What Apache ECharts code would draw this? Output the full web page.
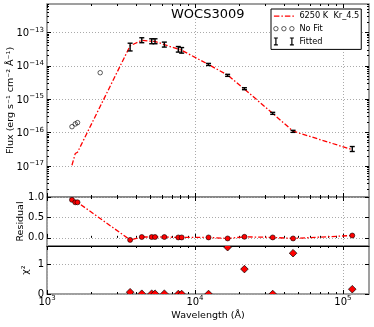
<!DOCTYPE html>
<html>
<head>
<meta charset="utf-8">
<script src="https://cdn.jsdelivr.net/npm/echarts@6/dist/echarts.min.js"></script>
<style>
  html, body { margin: 0; padding: 0; background: #fff; }
  #chart { width: 374px; height: 327px; }
</style>
</head>
<body>
<div id="chart"></div>
<script>
// wavelengths in Angstrom, fluxes in erg s-1 cm-2 A-1
const noFitWave = [1475, 1552, 1608, 2288]
const noFitFlux = [1.50e-16, 1.81e-16, 1.98e-16, 6.2e-15]

const fitWave = [3645, 4371, 5100, 5370, 6209, 7715, 8130, 12350, 16620, 21590, 33526, 46028, 115608]
const fitFlux = [3.76e-14, 5.9e-14, 5.5e-14, 5.5e-14, 4.37e-14, 3.17e-14, 2.95e-14, 1.10e-14, 5.18e-15, 2.06e-15, 3.77e-16, 1.09e-16, 3.26e-17]
const fitErr = [9.8e-15, 1.0e-14, 9.3e-15, 9.3e-15, 7.4e-15, 6.0e-15, 5.6e-15, 7.7e-16, 3.6e-16, 1.4e-16, 2.6e-17, 7.6e-18, 5.5e-18]
const chi2 = [0.06, 0.01, 0.01, 0.01, 0.01, 0.0, 0.0, 0.0, 1.56, 0.83, 0.0, 1.36, 0.16]

// model (6250 K, Kr_4.5) and residuals at the modelled filters
const modelWave = [1475, 1552, 1608, 3645, 4371, 5100, 5370, 6209, 7715, 8130, 12350, 16620, 21590, 33526, 46028, 115608]
const modelFlux = [1.05e-17, 2.35e-17, 2.57e-17, 3.95e-14, 5.8e-14, 5.4e-14, 5.4e-14, 4.3e-14, 3.15e-14, 2.92e-14, 1.09e-14, 5.25e-15, 2.0e-15, 3.73e-16, 1.1e-16, 3.07e-17]
const residual = [0.93, 0.87, 0.87, -0.05, 0.02, 0.02, 0.02, 0.02, 0.01, 0.01, 0.01, -0.015, 0.025, 0.01, -0.015, 0.057]

// ticks (log10 for the log axes)
const xTicks = [3, 4, 5]
const fluxTicks = [-17, -16, -15, -14, -13]
const residTicks = [0, 0.5, 1.0]
const chiTicks = [0, 1]

const LOG = Math.log10
const FONT = 'DejaVu Sans'
const RED = '#ff0000'
const xMin = 3
const xMax = LOG(1.5e5)
const fluxMin = -17.93
const fluxMax = -12.15

const xMinor = []
xTicks.forEach(d => { for (let k = 2; k <= 9; k++) { if (d + LOG(k) < xMax) xMinor.push(d + LOG(k)) } })
const fluxMinor = []
for (let d = -18; d <= -13; d++) { for (let k = 2; k <= 9; k++) { const v = d + LOG(k); if (v > fluxMin && v < fluxMax) fluxMinor.push(v) } }

const supRich = {
  b: { fontSize: 10, fontFamily: FONT, color: '#000', verticalAlign: 'bottom' },
  s: { fontSize: 7, fontFamily: FONT, color: '#000', verticalAlign: 'bottom', padding: [0, 0, 5, 0] }
}

const grids = [
  { left: 47, right: 5, top: 4, height: 193 },
  { left: 47, right: 5, top: 197, height: 49 },
  { left: 47, right: 5, top: 246, height: 48 }
].map(g => ({ ...g, show: true, borderColor: '#808080', borderWidth: 1.5, backgroundColor: 'transparent', containLabel: false, outerBoundsMode: 'none' }))

const tickStyle = { color: '#000', width: 1 }
const gridLine = { show: true, lineStyle: { color: '#aaa', width: 1, type: [1, 2] } }

function axis(gridIndex, position, min, max, ticks, len, opts) {
  return {
    type: 'value', gridIndex, position, min, max,
    axisLine: { show: false },
    axisTick: { show: true, inside: true, length: len, customValues: ticks, lineStyle: tickStyle },
    axisLabel: { show: false },
    splitLine: { show: false },
    nameMoveOverlap: false,
    ...opts
  }
}

const xAxes = []
const xMain = []
grids.forEach((g, i) => {
  xMain.push(xAxes.length)
  const last = i === 2
  xAxes.push(axis(i, 'bottom', xMin, xMax, xTicks, 4, {
    splitLine: gridLine,
    axisLabel: last ? {
      show: true, customValues: xTicks, margin: 1, rich: supRich,
      formatter: v => '{b|10}{s|' + Math.round(v) + '}'
    } : { show: false },
    name: last ? 'Wavelength (Å)' : '',
    nameLocation: 'middle', nameGap: 17,
    nameTextStyle: { fontSize: 9.5, fontFamily: FONT, color: '#000' }
  }))
  xAxes.push(axis(i, 'bottom', xMin, xMax, xMinor, 2))
  xAxes.push(axis(i, 'top', xMin, xMax, xTicks, 4, i === 2 ? { axisLine: { show: true, lineStyle: { color: '#000', width: 1 } } } : {}))
  xAxes.push(axis(i, 'top', xMin, xMax, xMinor, 2))
})

const nameStyle = { fontSize: 9.5, fontFamily: FONT, color: '#000' }
const yAxes = [
  axis(0, 'left', fluxMin, fluxMax, fluxTicks, 4, {
    splitLine: gridLine,
    axisLabel: {
      show: true, customValues: fluxTicks, margin: 3, rich: supRich,
      formatter: v => '{b|10}{s|\u2212' + Math.abs(Math.round(v)) + '}'
    },
    name: 'Flux (erg s\u207b\u00b9 cm\u207b\u00b2 \u00c5\u207b\u00b9)', nameLocation: 'middle', nameGap: 31, nameRotate: 90,
    nameTextStyle: nameStyle
  }),
  axis(0, 'left', fluxMin, fluxMax, fluxMinor, 2),
  axis(0, 'right', fluxMin, fluxMax, fluxTicks, 4),
  axis(0, 'right', fluxMin, fluxMax, fluxMinor, 2),
  axis(1, 'left', -0.2, 1.0, residTicks, 4, {
    splitLine: gridLine,
    axisLabel: {
      show: true, customValues: residTicks, margin: 3, fontSize: 10, fontFamily: FONT, color: '#000',
      formatter: v => v.toFixed(1)
    },
    name: 'Residual', nameLocation: 'middle', nameGap: 21, nameRotate: 90, nameTextStyle: nameStyle
  }),
  axis(1, 'right', -0.2, 1.0, residTicks, 4),
  axis(2, 'left', 0, 1.6, chiTicks, 4, {
    splitLine: gridLine,
    axisLabel: {
      show: true, customValues: chiTicks, margin: 3, fontSize: 10, fontFamily: FONT, color: '#000',
      formatter: v => String(Math.round(v))
    },
    name: '\u03c7\u00b2', nameLocation: 'middle', nameGap: 16, nameRotate: 90, nameTextStyle: nameStyle
  }),
  axis(2, 'right', 0, 1.6, chiTicks, 4)
]

const errData = fitWave.map((w, i) => [LOG(w), LOG(fitFlux[i] - fitErr[i]), LOG(fitFlux[i] + fitErr[i])])

const corners = 'M0,0h0.01v0.01h-0.01z M21,10h0.01v0.01h-0.01z'
const dashPath = 'path://' + corners +
  ' M0.5,4.4h5.5v1.3h-5.5z M8,4.4h1.5v1.3h-1.5z M11.5,4.4h5.5v1.3h-5.5z M19,4.4h1.5v1.3h-1.5z'
const ringPath = 'path://' + corners +
  ' M4.7,5A2.2,2.2 0 1 1 0.3,5A2.2,2.2 0 1 1 4.7,5z' +
  ' M12.7,5A2.2,2.2 0 1 1 8.3,5A2.2,2.2 0 1 1 12.7,5z' +
  ' M20.7,5A2.2,2.2 0 1 1 16.3,5A2.2,2.2 0 1 1 20.7,5z'
const barPath = 'path://' + corners +
  ' M0.5,1h4v1.2h-4z M1.9,1h1.2v8h-1.2z M0.5,7.8h4v1.2h-4z' +
  ' M16.5,1h4v1.2h-4z M17.9,1h1.2v8h-1.2z M16.5,7.8h4v1.2h-4z'

const chart = echarts.init(document.getElementById('chart'))
chart.setOption({
  animation: false,
  backgroundColor: '#fff',
  textStyle: { fontFamily: FONT },
  title: {
    text: 'WOCS3009', left: 171, top: 8, padding: 0,
    textStyle: { fontSize: 13, fontWeight: 'normal', color: '#000', fontFamily: FONT }
  },
  legend: {
    orient: 'vertical', left: 271, top: 9, padding: [2, 2, 3, 2], itemGap: 2.3,
    itemWidth: 21, itemHeight: 10, selectedMode: false,
    borderColor: '#000', borderWidth: 1, borderRadius: 0, backgroundColor: '#fff',
    textStyle: { fontSize: 8.2, color: '#000', fontFamily: FONT },
    data: [
      { name: '6250 K  Kr_4.5', icon: dashPath, itemStyle: { color: RED, borderWidth: 0 } },
      { name: 'No Fit', icon: ringPath, itemStyle: { color: 'rgba(0,0,0,0)', borderColor: '#000', borderWidth: 0.8 } },
      { name: 'Fitted', icon: barPath, itemStyle: { color: '#000', borderWidth: 0 } }
    ]
  },
  grid: grids,
  xAxis: xAxes,
  yAxis: yAxes,
  series: [
    {
      name: '6250 K  Kr_4.5', type: 'line', xAxisIndex: xMain[0], yAxisIndex: 0,
      data: modelWave.map((w, i) => [LOG(w), LOG(modelFlux[i])]),
      symbol: 'none', showSymbol: false, z: 3,
      lineStyle: { color: RED, width: 1.3, type: [5, 2, 1.5, 2] },
      itemStyle: { color: RED }
    },
    {
      name: 'No Fit', type: 'scatter', xAxisIndex: xMain[0], yAxisIndex: 0,
      data: noFitWave.map((w, i) => [LOG(w), LOG(noFitFlux[i])]),
      symbol: 'circle', symbolSize: 4.5,
      itemStyle: { color: 'rgba(0,0,0,0)', borderColor: '#000', borderWidth: 0.8 }
    },
    {
      name: 'Fitted', type: 'custom', xAxisIndex: xMain[0], yAxisIndex: 0,
      data: errData, encode: { x: 0, y: [1, 2] }, clip: false, z: 4,
      itemStyle: { color: '#000' },
      renderItem: (params, api) => {
        const lo = api.coord([api.value(0), api.value(1)])
        const hi = api.coord([api.value(0), api.value(2)])
        const w = 2.5
        const st = { stroke: '#000', lineWidth: 1.4 }
        return {
          type: 'group', children: [
            { type: 'line', shape: { x1: hi[0], y1: hi[1], x2: lo[0], y2: lo[1] }, style: st },
            { type: 'line', shape: { x1: hi[0] - w, y1: hi[1], x2: hi[0] + w, y2: hi[1] }, style: st },
            { type: 'line', shape: { x1: lo[0] - w, y1: lo[1], x2: lo[0] + w, y2: lo[1] }, style: st }
          ]
        }
      }
    },
    {
      name: 'resid', type: 'line', xAxisIndex: xMain[1], yAxisIndex: 4,
      data: modelWave.map((w, i) => [LOG(w), residual[i]]),
      symbol: 'circle', symbolSize: 5, showSymbol: true,
      lineStyle: { color: RED, width: 1.3, type: [5, 2, 1.5, 2] },
      itemStyle: { color: RED, borderColor: '#000', borderWidth: 0.6 }
    },
    {
      name: 'chi2', type: 'custom', xAxisIndex: xMain[2], yAxisIndex: 6,
      data: fitWave.map((w, i) => [LOG(w), chi2[i]]), encode: { x: 0, y: 1 }, clip: true,
      renderItem: (params, api) => {
        const p = api.coord([api.value(0), api.value(1)])
        const r = 3.8
        return {
          type: 'polygon',
          shape: { points: [[p[0], p[1] - r], [p[0] + r, p[1]], [p[0], p[1] + r], [p[0] - r, p[1]]] },
          style: { fill: RED, stroke: '#000', lineWidth: 0.7 }
        }
      }
    }
  ]
})
</script>
</body>
</html>
